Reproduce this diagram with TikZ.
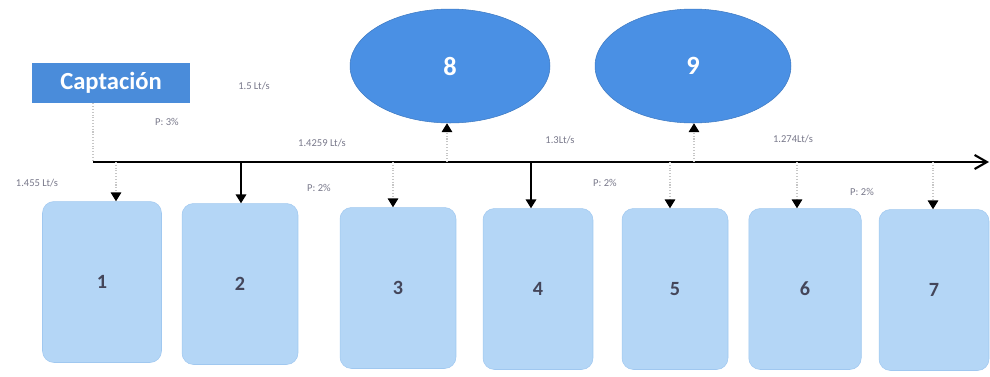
\documentclass[tikz,border=0pt]{standalone}
\usepackage{fontspec}
\setmainfont{Carlito}
\usetikzlibrary{arrows.meta,positioning,shapes.geometric}

\definecolor{captblue}{RGB}{74,140,218}
\definecolor{ovalblue}{RGB}{74,144,228}
\definecolor{tankblue}{RGB}{180,214,246}
\definecolor{tankedge}{RGB}{160,200,240}
\definecolor{flowgray}{RGB}{120,120,138}
\definecolor{numgray}{RGB}{68,70,90}

\begin{document}
\begin{tikzpicture}[x=0.02cm, y=-0.02cm,
  tank/.style={fill=tankblue, draw=tankedge, line width=0.3pt, rounded corners=6.5pt, minimum width=2.25cm, minimum height=3.22cm, text=numgray, font=\fontsize{11.5}{13}\selectfont\bfseries},
  oval/.style={ellipse, fill=ovalblue, draw=ovalblue!85!black, line width=0.3pt, minimum width=4cm, minimum height=2.28cm, text=white, font=\fontsize{15}{17}\selectfont\bfseries},
  flow/.style={text=flowgray, font=\fontsize{6}{7}\selectfont, inner sep=0pt},
  pipe/.style={line width=1.2pt, -{Straight Barb[length=7pt,width=8pt,line width=1.2pt]}},
  feed/.style={line width=0.8pt, -{Triangle[width=6pt,length=5pt]}},
  dotfeed/.style={draw=gray!45, densely dotted, line width=0.6pt, -{Triangle[width=6pt,length=5pt,color=black]}}]
\useasboundingbox (0,0) rectangle (990,376);
% Specification of nodes (position, etc.)

\node (capt)   [fill=captblue, text=white, minimum width=3.16cm, minimum height=0.8cm, font=\fontsize{14}{16}\selectfont\bfseries] at (111,83) {Captación};
\node (e8)     [oval]                              at (450,66)  {8};
\node (e9)     [oval, minimum width=3.92cm]        at (693,66)  {9};

\node (b1)     [tank, minimum width=2.38cm]        at (102,282) {1};
\node (b2)     [tank, minimum width=2.32cm]        at (240,284) {2};
\node (b3)     [tank, minimum width=2.32cm]        at (398,288) {3};
\node (b4)     [tank, minimum width=2.2cm]         at (538,289) {4};
\node (b5)     [tank, minimum width=2.12cm]        at (675,289) {5};
\node (b6)     [tank]                              at (805,289) {6};
\node (b7)     [tank, minimum width=2.2cm]         at (934,290) {7};

% flows
\node (q0)     [flow]  at (254,86)  {1.5 Lt/s};
\node (p0)     [flow]  at (167,122) {P: 3\%};
\node (q1)     [flow]  at (37,183)  {1.455 Lt/s};
\node (q2)     [flow]  at (322,143) {1.4259 Lt/s};
\node (p1)     [flow]  at (319,188) {P: 2\%};
\node (q3)     [flow]  at (560,140) {1.3Lt/s};
\node (p2)     [flow]  at (605,183) {P: 2\%};
\node (q4)     [flow]  at (793,139) {1.274Lt/s};
\node (p3)     [flow]  at (862,192) {P: 2\%};

% main line and taps
\coordinate (start) at (93,162);
\coordinate (end)   at (989,162);
\foreach \n/\x in {1/116, 2/241, 3/393, 4/531, 5/670, 6/797, 7/933, 8/447, 9/694}
  \coordinate (t\n) at (\x,162);

\draw[dotfeed, -]     (start |- capt.south) -- (start);
\draw[pipe]           (start) -- (end);

\draw[dotfeed]        (t1) -- (t1 |- b1.north);
\draw[feed]           (t2) -- (t2 |- b2.north);
\draw[dotfeed]        (t3) -- (t3 |- b3.north);
\draw[feed]           (t4) -- (t4 |- b4.north);
\draw[dotfeed]        (t5) -- (t5 |- b5.north);
\draw[dotfeed]        (t6) -- (t6 |- b6.north);
\draw[dotfeed]        (t7) -- (t7 |- b7.north);
\draw[dotfeed]        (t8) -- (t8 |- e8.south);
\draw[dotfeed]        (t9) -- (t9 |- e9.south);

\end{tikzpicture}
\end{document}
